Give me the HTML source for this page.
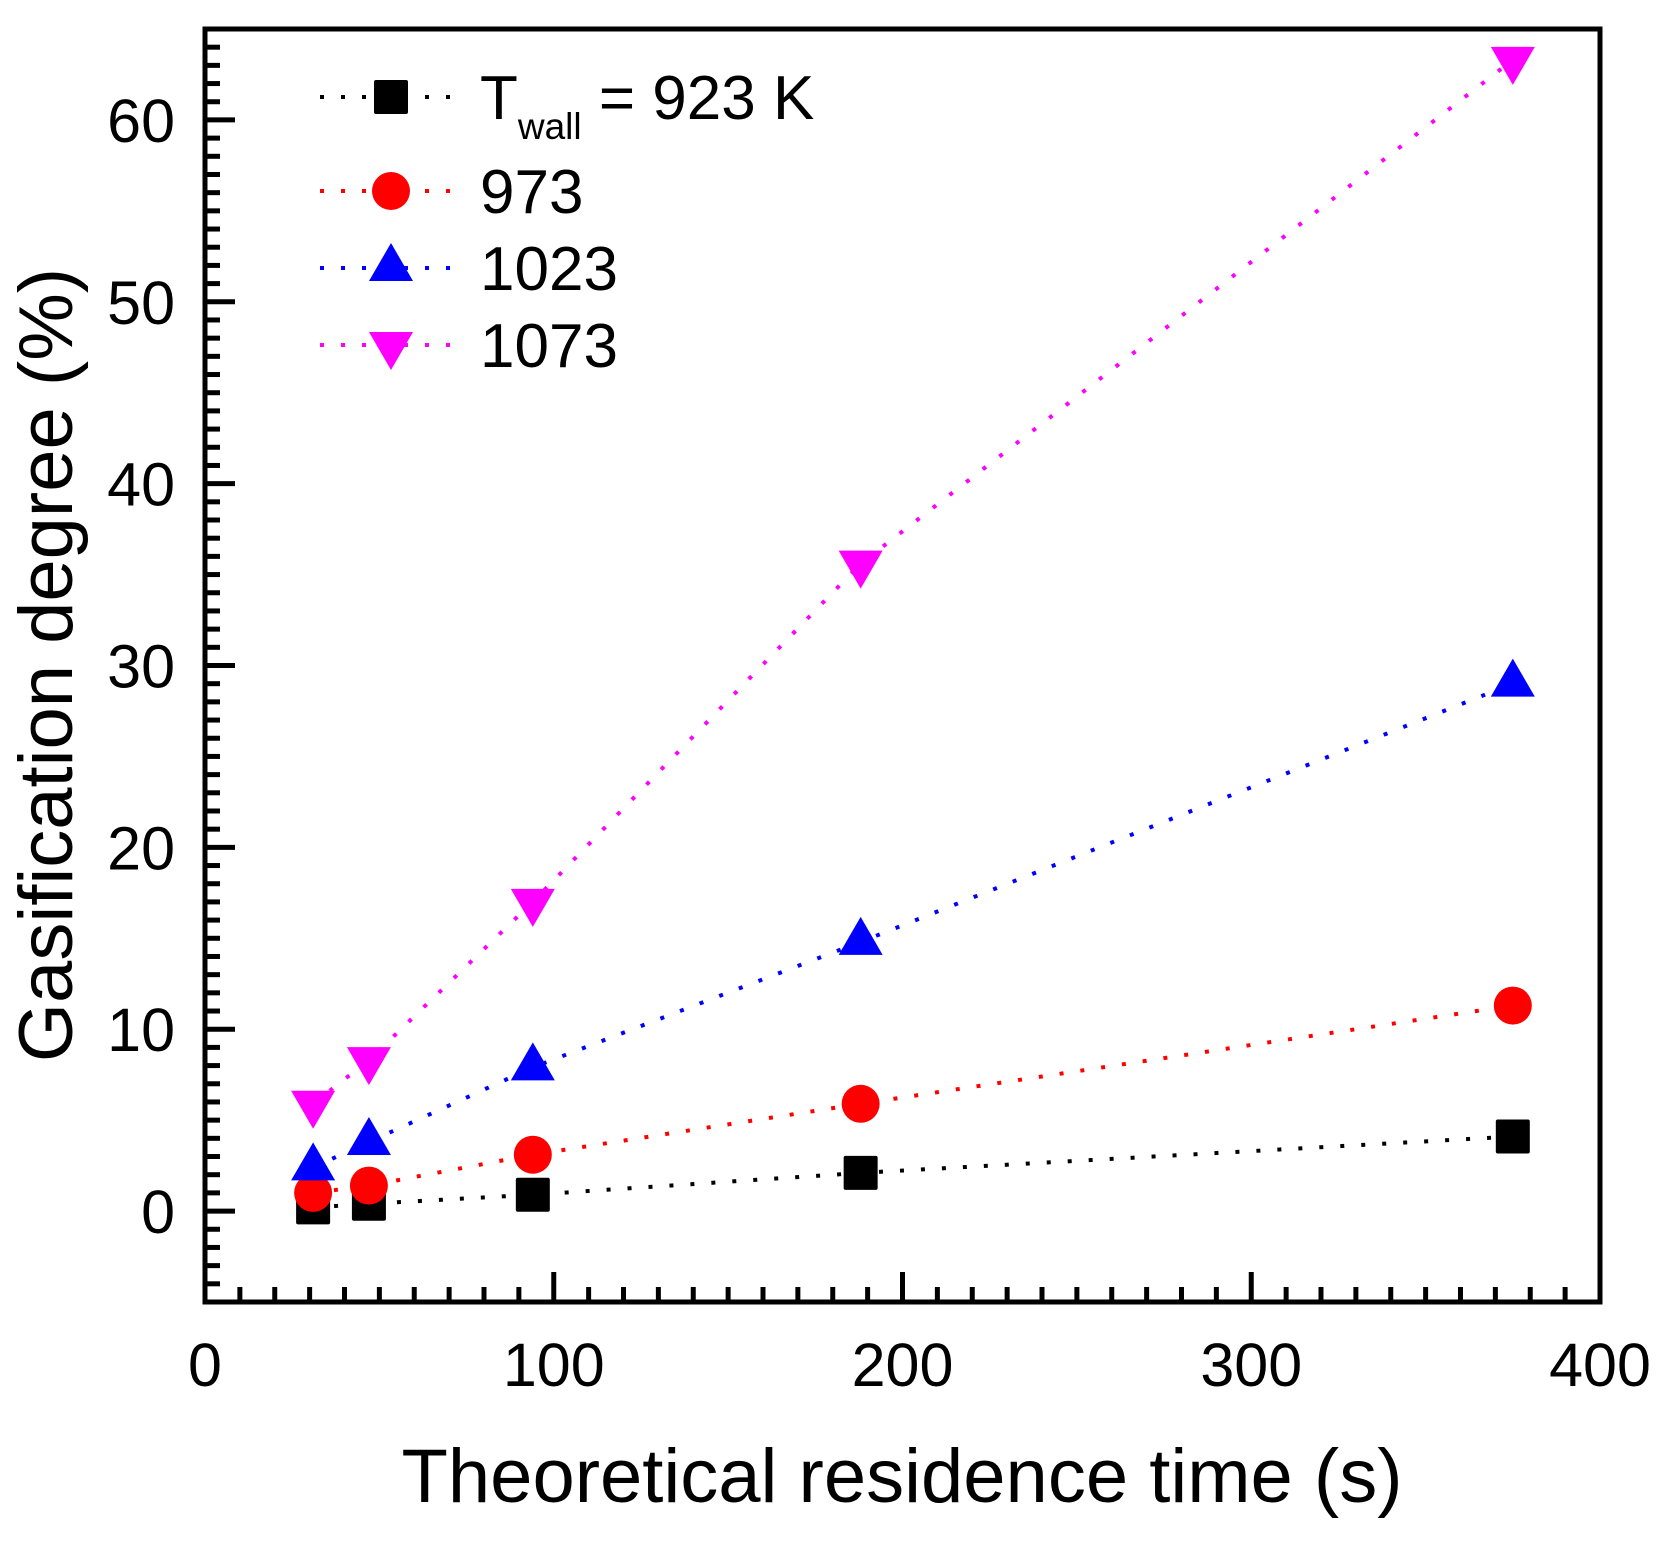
<!DOCTYPE html>
<html><head><meta charset="utf-8"><style>
html,body{margin:0;padding:0;background:#fff;}
svg text{font-family:"Liberation Sans",Arial,sans-serif;fill:#000;}
</style></head><body>
<svg id="chart" xmlns="http://www.w3.org/2000/svg" width="1664" height="1544" viewBox="0 0 1664 1544">
<g id="axes"></g>
<g id="series"></g>
<g id="legend"></g>
<text x="902" y="1502" font-size="76" text-anchor="middle">Theoretical residence time (s)</text>
<text transform="translate(72,665) rotate(-90)" font-size="76" text-anchor="middle">Gasification degree (%)</text>
</svg>
<script>
const xValues = [31, 47, 94, 188, 375];
const series923 = [0.2, 0.4, 0.9, 2.1, 4.1];
const series973 = [1.0, 1.4, 3.1, 5.9, 11.3];
const series1023 = [2.4, 3.8, 7.9, 14.8, 29.0];
const series1073 = [5.9, 8.3, 17.0, 35.6, 63.3];
const xTicks = [0, 100, 200, 300, 400];
const yTicks = [0, 10, 20, 30, 40, 50, 60];
const legendLabels = ["923 K", "973", "1023", "1073"];

const NS = "http://www.w3.org/2000/svg";
const L = 205, R = 1600, T = 29, B = 1302;
const xMin = 0, xMax = 400, yMin = -5, yMax = 65;
const sx = v => L + (v - xMin) / (xMax - xMin) * (R - L);
const sy = v => B - (v - yMin) / (yMax - yMin) * (B - T);
function mk(tag, attrs, parent) {
  const e = document.createElementNS(NS, tag);
  for (const k in attrs) e.setAttribute(k, attrs[k]);
  parent.appendChild(e);
  return e;
}
const axes = document.getElementById('axes');
const frame = mk('rect', {x: L, y: T, width: R - L, height: B - T, fill: 'none', stroke: '#000', 'stroke-width': 5}, axes);


for (let v = -5; v <= 65; v += 1) {
  const major = v % 10 === 0;
  const t = mk('line', {x1: L, x2: L + (major ? 30 : 15), y1: sy(v), y2: sy(v), stroke: '#000', 'stroke-width': 5}, axes);
  
  
}
for (let v = 0; v <= 400; v += 10) {
  const major = v % 100 === 0;
  const t = mk('line', {x1: sx(v), x2: sx(v), y1: B, y2: B - (major ? 30 : 15), stroke: '#000', 'stroke-width': 5}, axes);
  
  
}
yTicks.forEach(v => {
  const t = mk('text', {x: 175, y: sy(v) + 22, 'font-size': 61, 'text-anchor': 'end'}, axes);
  t.textContent = v;
  
  
});
xTicks.forEach(v => {
  const t = mk('text', {x: sx(v), y: 1386, 'font-size': 61, 'text-anchor': 'middle'}, axes);
  t.textContent = v;
  
  
});

function marker(kind, cx, cy, color, parent) {
  let e;
  if (kind === 'square') e = mk('rect', {x: cx - 17, y: cy - 17, width: 34, height: 34, rx: 2, fill: color}, parent);
  else if (kind === 'circle') e = mk('circle', {cx: cx, cy: cy, r: 19, fill: color}, parent);
  else if (kind === 'up') e = mk('polygon', {points: `${cx},${cy - 25} ${cx - 22},${cy + 13} ${cx + 22},${cy + 13}`, fill: color}, parent);
  else e = mk('polygon', {points: `${cx},${cy + 25} ${cx - 22},${cy - 13} ${cx + 22},${cy - 13}`, fill: color}, parent);
  return e;
}
const sets = [
  {vals: series923, color: '#000', kind: 'square', name: '923'},
  {vals: series973, color: '#ff0000', kind: 'circle', name: '973'},
  {vals: series1023, color: '#0000ff', kind: 'up', name: '1023'},
  {vals: series1073, color: '#ff00ff', kind: 'down', name: '1073'}
];
const sg = document.getElementById('series');
sets.forEach(s => {
  const pts = xValues.map((x, i) => sx(x) + ',' + sy(s.vals[i])).join(' ');
  const pl = mk('polyline', {points: pts, fill: 'none', stroke: s.color, 'stroke-width': 4, 'stroke-dasharray': '4 17'}, sg);
  
  
  xValues.forEach((x, i) => {
    const m = marker(s.kind, sx(x), sy(s.vals[i]), s.color, sg);
    
    
  });
});
const lg = document.getElementById('legend');
const rows = [97, 191, 268, 345];
sets.forEach((s, i) => {
  const y = rows[i];
  const ln = mk('line', {x1: 320, x2: 458, y1: y, y2: y, stroke: s.color, 'stroke-width': 4, 'stroke-dasharray': '4 17'}, lg);
  
  
  const m = marker(s.kind, 391, y, s.color, lg);
  
  
  const t = mk('text', {x: 480, y: y + 22, 'font-size': 62}, lg);
  
  
  if (i === 0) {
    t.textContent = 'T';
    const sub = mk('tspan', {'font-size': 37, dy: 20}, t);
    sub.textContent = 'wall';
    const rest = mk('tspan', {dy: -20}, t);
    rest.textContent = ' = ' + legendLabels[0];
  } else t.textContent = legendLabels[i];
});
</script>
</body></html>
